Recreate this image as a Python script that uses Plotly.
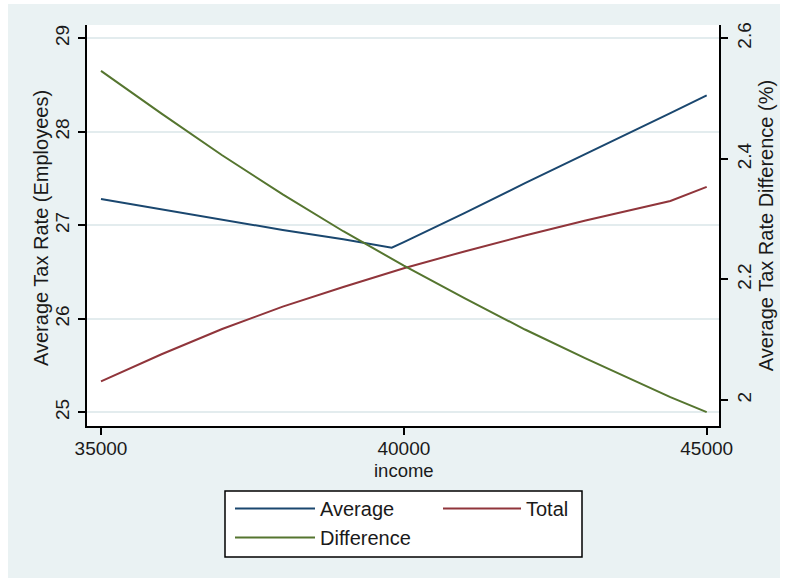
import plotly.graph_objects as go

# ---- data ----
income = [35000, 36000, 37000, 38000, 39000, 39800, 40000, 41000, 42000, 43000, 44000, 44400, 45000]
average = [27.28, 27.17, 27.06, 26.95, 26.85, 26.76, 26.82, 27.13, 27.45, 27.76, 28.07, 28.20, 28.39]
total = [25.33, 25.62, 25.89, 26.13, 26.34, 26.50, 26.54, 26.72, 26.89, 27.05, 27.20, 27.26, 27.41]
difference = [2.546, 2.475, 2.406, 2.341, 2.280, 2.234, 2.223, 2.169, 2.117, 2.069, 2.023, 2.005, 1.980]

x_ticks = [35000, 40000, 45000]
left_ticks = [25, 26, 27, 28, 29]
right_ticks = [2.0, 2.2, 2.4, 2.6]
right_tick_labels = ["2", "2.2", "2.4", "2.6"]

NAVY = "#1A476F"
MAROON = "#90353B"
GREEN = "#55752F"
BG = "#EAF2F3"
FONT = "Liberation Sans, Arial, sans-serif"
TXT = "#1a1a1a"

fig = go.Figure()
fig.add_trace(go.Scatter(x=income, y=average, name="Average", mode="lines",
                         line=dict(color=NAVY, width=2), legend="legend"))
fig.add_trace(go.Scatter(x=income, y=total, name="Total", mode="lines",
                         line=dict(color=MAROON, width=2), legend="legend2"))
fig.add_trace(go.Scatter(x=income, y=difference, name="Difference", mode="lines",
                         line=dict(color=GREEN, width=2), yaxis="y2", legend="legend"))

W, H = 787, 581
L, R, T, B = 87, 68, 25, 155
pw, ph = W - L - R, H - T - B

def px(xp):
    return (xp - L) / pw

def py(yp):
    return (H - B - yp) / ph

white_strip = dict(fillcolor="white", line=dict(width=0), layer="above",
                   type="rect", xref="paper", yref="paper")

fig.update_layout(
    width=W, height=H,
    margin=dict(l=L, r=R, t=T, b=B, autoexpand=False),
    paper_bgcolor=BG,
    plot_bgcolor="white",
    font=dict(family=FONT, size=19, color=TXT),
    shapes=[
        # thin white frame around the graph region
        dict(white_strip, x0=px(0), x1=px(8), y0=py(H), y1=py(0)),
        dict(white_strip, x0=px(780), x1=px(W), y0=py(H), y1=py(0)),
        dict(white_strip, x0=px(0), x1=px(W), y0=py(4), y1=py(0)),
        dict(white_strip, x0=px(0), x1=px(W), y0=py(H), y1=py(578)),
        # legend box
        dict(type="rect", xref="paper", yref="paper", layer="below",
             x0=px(225), x1=px(582), y0=py(557), y1=py(491),
             fillcolor="white", line=dict(color="black", width=1.5)),
    ],
    annotations=[
        dict(text="income", xref="paper", yref="paper", x=px(404), y=py(470),
             xanchor="center", yanchor="middle", showarrow=False,
             font=dict(size=18.5)),
        dict(text="Average Tax Rate (Employees)", xref="paper", yref="paper",
             x=px(41), y=py(228), xanchor="center", yanchor="middle",
             textangle=-90, showarrow=False, font=dict(size=20)),
    ],
    xaxis=dict(
        range=[34769, 45203], tickvals=x_ticks, ticktext=[str(v) for v in x_ticks],
        showgrid=False, zeroline=False, automargin=False,
        showline=True, linecolor="black", linewidth=1.5,
        ticks="outside", ticklen=7, tickwidth=1.5, tickcolor="black",
        tickfont=dict(size=19), ticklabelstandoff=-3,
    ),
    yaxis=dict(
        range=[24.853, 29.142], tickvals=left_ticks,
        showgrid=True, gridcolor="#E3ECEE", gridwidth=1.5, zeroline=False,
        automargin=False,
        showline=True, linecolor="black", linewidth=1.5,
        ticks="outside", ticklen=7, tickwidth=1.5, tickcolor="black",
        tickangle=-90, tickfont=dict(size=19), ticklabelstandoff=2,
    ),
    yaxis2=dict(
        range=[1.957, 2.622], tickvals=right_ticks, ticktext=right_tick_labels,
        overlaying="y", side="right", automargin=False,
        showgrid=False, zeroline=False,
        showline=True, linecolor="black", linewidth=1.5,
        ticks="outside", ticklen=7, tickwidth=1.5, tickcolor="black",
        tickangle=-90, tickfont=dict(size=19),
        title=dict(text="Average Tax Rate Difference (%)", standoff=0, font=dict(size=20)),
    ),
    legend=dict(
        x=px(230), y=py(489), xanchor="left", yanchor="top",
        orientation="v", bgcolor="rgba(0,0,0,0)", borderwidth=0,
        itemwidth=80, font=dict(size=20), tracegroupgap=0,
    ),
    legend2=dict(
        x=px(438), y=py(489), xanchor="left", yanchor="top",
        orientation="v", bgcolor="rgba(0,0,0,0)", borderwidth=0,
        itemwidth=78, font=dict(size=20),
    ),
    showlegend=True,
)

fig.write_html("out.html", config={"displayModeBar": False},
               post_script="document.body.style.margin='0';")
